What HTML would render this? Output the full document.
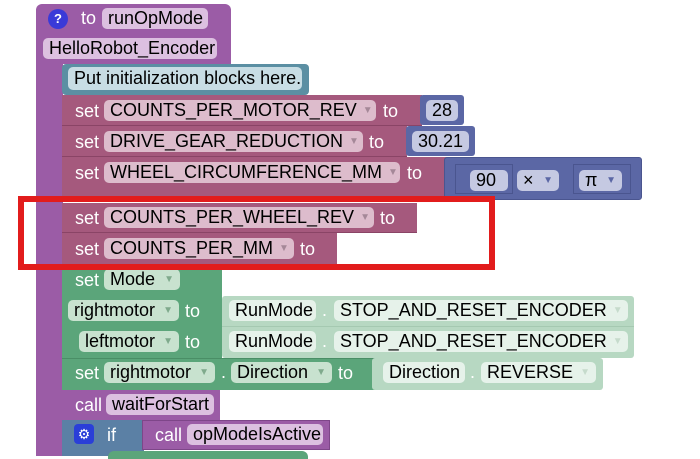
<!DOCTYPE html>
<html><head><meta charset="utf-8"><style>
body{margin:0;width:700px;height:456px;background:#fff;position:relative;overflow:hidden;font-family:"Liberation Sans",Arial,sans-serif;font-size:18px}
.b{position:absolute;box-sizing:border-box}
.t{position:absolute;color:#fff;line-height:20px;white-space:nowrap}
.p{position:absolute;height:21px;line-height:21px;border-radius:5px;color:#000;padding:0 6px;box-sizing:border-box;white-space:nowrap;display:flex;justify-content:space-between;align-items:center;overflow:hidden}
.p i{font-style:normal;font-size:10px;margin-left:6px}
.pu{background:#dcc0e0}
.ma{background:#ddbccc}
.ma i{color:#a58898}
.bl{background:#c5c9e2}
.bl i{color:#5b67a5}
.gr{background:#c8e2cf}
.gr i{color:#7faa8c}
.lg{background:#e6f2ea}
.lg i{color:#c6dbcc}
.tl{background:#c8dde4}
</style></head><body>
<div class="b" style="left:36px;top:4px;width:195px;height:60px;background:#9b5ca6;border-radius:6px 6px 0 0"></div>
<div class="b" style="left:36px;top:60px;width:27px;height:396px;background:#9b5ca6"></div>
<div class="b" style="left:48px;top:9px;width:20px;height:20px;border-radius:50%;background:#3a3ad8;color:#fff;font-weight:bold;font-size:13px;text-align:center;line-height:20px">?</div>
<div class="t" style="left:81px;top:8px">to</div>
<div class="p pu" style="left:102px;top:8px;width:106px">runOpMode</div>
<div class="p pu" style="left:43px;top:38px;width:174px">HelloRobot_Encoder</div>
<div class="b" style="left:62px;top:64px;width:247px;height:31px;background:#5b8fa3;border-radius:4px"></div>
<div class="p tl" style="left:68px;top:67px;width:234px;height:23px;line-height:23px">Put initialization blocks here.</div>

<div class="b" style="left:62px;top:95px;width:360px;height:31px;background:#a5597d;border-bottom:1px solid #8a4466"></div>
<div class="t" style="left:75px;top:101px">set</div>
<div class="p ma" style="left:104px;top:100px;width:272px">COUNTS_PER_MOTOR_REV<i>▼</i></div>
<div class="t" style="left:383px;top:101px">to</div>
<div class="b" style="left:420px;top:95px;width:44px;height:30px;background:#5b67a5;border-radius:3px"></div>
<div class="p bl" style="left:426px;top:100px;width:32px">28</div>

<div class="b" style="left:62px;top:126px;width:345px;height:31px;background:#a5597d;border-bottom:1px solid #8a4466"></div>
<div class="t" style="left:75px;top:132px">set</div>
<div class="p ma" style="left:104px;top:131px;width:259px">DRIVE_GEAR_REDUCTION<i>▼</i></div>
<div class="t" style="left:369px;top:132px">to</div>
<div class="b" style="left:406px;top:126px;width:69px;height:30px;background:#5b67a5;border-radius:3px"></div>
<div class="p bl" style="left:412px;top:131px;width:57px">30.21</div>

<div class="b" style="left:62px;top:157px;width:385px;height:40px;background:#a5597d"></div>
<div class="t" style="left:75px;top:163px">set</div>
<div class="p ma" style="left:104px;top:162px;width:296px">WHEEL_CIRCUMFERENCE_MM<i>▼</i></div>
<div class="t" style="left:407px;top:163px">to</div>
<div class="b" style="left:444px;top:157px;width:198px;height:43px;background:#5b67a5;border-radius:3px;border:1px solid #4a558f"></div>
<div class="b" style="left:455px;top:164px;width:58px;height:30px;border:1px solid #4a558f;background:#5b67a5"></div>
<div class="p bl" style="left:470px;top:170px;width:38px">90</div>
<div class="p bl" style="left:517px;top:170px;width:42px">×<i>▼</i></div>
<div class="b" style="left:573px;top:164px;width:58px;height:30px;border:1px solid #4a558f;background:#5b67a5"></div>
<div class="p bl" style="left:579px;top:170px;width:43px">π<i>▼</i></div>

<div class="b" style="left:62px;top:203px;width:355px;height:30px;background:#a5597d;border-bottom:1px solid #8a4466"></div>
<div class="t" style="left:75px;top:208px">set</div>
<div class="p ma" style="left:104px;top:207px;width:270px">COUNTS_PER_WHEEL_REV<i>▼</i></div>
<div class="t" style="left:380px;top:208px">to</div>
<div class="b" style="left:62px;top:233px;width:275px;height:31px;background:#a5597d"></div>
<div class="t" style="left:75px;top:239px">set</div>
<div class="p ma" style="left:104px;top:238px;width:190px">COUNTS_PER_MM<i>▼</i></div>
<div class="t" style="left:300px;top:239px">to</div>

<div class="b" style="left:62px;top:264px;width:160px;height:94px;background:#5ba57a"></div>
<div class="t" style="left:75px;top:270px">set</div>
<div class="p gr" style="left:104px;top:269px;width:76px">Mode<i>▼</i></div>
<div class="p gr" style="left:68px;top:300px;width:111px">rightmotor<i>▼</i></div>
<div class="t" style="left:185px;top:301px">to</div>
<div class="p gr" style="left:79px;top:331px;width:100px">leftmotor<i>▼</i></div>
<div class="t" style="left:185px;top:332px">to</div>
<div class="b" style="left:222px;top:296px;width:412px;height:62px;background:#b7d8c2;border-radius:3px"></div>
<div class="b" style="left:222px;top:326px;width:412px;height:1px;background:#a5c9b1"></div>
<div class="p lg" style="left:229px;top:300px;width:87px">RunMode</div>
<div class="t" style="left:322px;top:300px">.</div>
<div class="p lg" style="left:334px;top:300px;width:294px">STOP_AND_RESET_ENCODER<i>▼</i></div>
<div class="p lg" style="left:229px;top:331px;width:87px">RunMode</div>
<div class="t" style="left:322px;top:331px">.</div>
<div class="p lg" style="left:334px;top:331px;width:294px">STOP_AND_RESET_ENCODER<i>▼</i></div>

<div class="b" style="left:62px;top:358px;width:313px;height:32px;background:#5ba57a;border-top:1px solid #4a8e66"></div>
<div class="t" style="left:75px;top:363px">set</div>
<div class="p gr" style="left:104px;top:362px;width:111px">rightmotor<i>▼</i></div>
<div class="t" style="left:221px;top:362px">.</div>
<div class="p gr" style="left:231px;top:362px;width:101px">Direction<i>▼</i></div>
<div class="t" style="left:338px;top:363px">to</div>
<div class="b" style="left:372px;top:358px;width:231px;height:32px;background:#b7d8c2;border-radius:3px"></div>
<div class="p lg" style="left:383px;top:362px;width:82px">Direction</div>
<div class="t" style="left:470px;top:362px">.</div>
<div class="p lg" style="left:481px;top:362px;width:115px">REVERSE<i>▼</i></div>

<div class="b" style="left:62px;top:390px;width:158px;height:30px;background:#9b5ca6"></div>
<div class="t" style="left:75px;top:395px">call</div>
<div class="p pu" style="left:106px;top:394px;width:108px">waitForStart</div>

<div class="b" style="left:62px;top:420px;width:82px;height:36px;background:#5b80a5"></div>
<div class="b" style="left:74px;top:424px;width:20px;height:20px;border-radius:4px;background:#2a3fd8;color:#fff;font-size:14px;text-align:center;line-height:20px">⚙</div>
<div class="t" style="left:107px;top:425px">if</div>
<div class="b" style="left:142px;top:420px;width:188px;height:30px;background:#9b5ca6;border:1px solid #7e4689"></div>
<div class="t" style="left:155px;top:425px">call</div>
<div class="p pu" style="left:187px;top:424px;width:136px">opModeIsActive</div>
<div class="b" style="left:108px;top:451px;width:200px;height:8px;background:#5ba57a;border-radius:6px 6px 0 0"></div>

<div class="b" style="left:18px;top:196px;width:477px;height:74px;border:6px solid #e21c1c"></div>
</body></html>
